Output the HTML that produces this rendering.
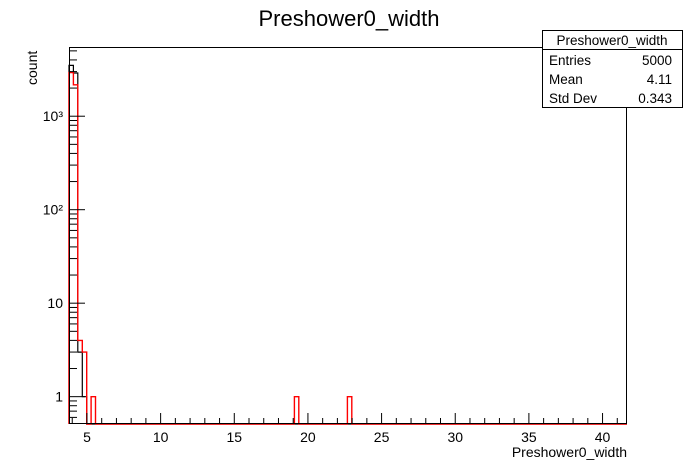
<!DOCTYPE html>
<html><head><meta charset="utf-8"><style>
html,body{margin:0;padding:0;background:#fff;}
svg{display:block;font-family:"Liberation Sans",sans-serif;}
</style></head><body>
<svg id="c" width="696" height="472" viewBox="0 0 696 472" xmlns="http://www.w3.org/2000/svg">
<rect width="696" height="472" fill="#fff"/>
<text x="349" y="26" font-size="22" text-anchor="middle">Preshower0_width</text>
<g id="plot"></g>
<text transform="translate(37,85) rotate(-90)" font-size="14">count</text>
<text x="627" y="457" font-size="14" text-anchor="end">Preshower0_width</text>
<g>
<rect x="542.5" y="30.5" width="140" height="77" fill="#fff" stroke="#000"/>
<line x1="542" y1="49.5" x2="682" y2="49.5" stroke="#000"/>
<text x="612" y="45" font-size="13.5" text-anchor="middle">Preshower0_width</text>
<text x="549" y="65" font-size="13.5">Entries</text><text x="672" y="65" font-size="13.5" text-anchor="end">5000</text>
<text x="549" y="84" font-size="13.5">Mean</text><text x="672" y="84" font-size="13.5" text-anchor="end">4.11</text>
<text x="549" y="103" font-size="13.5">Std Dev</text><text x="672" y="103" font-size="13.5" text-anchor="end">0.343</text>
</g>
</svg>
<script>
const xTicks = [5,10,15,20,25,30,35,40];
const yMajor = [1,10,100,1000];
const yLabels = ["1","10","10²","10³"];
const binStart = 3.78;
const binWidth = 0.3;
const redCounts = {0:2930,1:2170,2:4,3:3,5:1,51:1,63:1};
const blackCounts = {0:3500,1:2900,2:3,3:1};

const L=69,R=627,T=47,B=424;
const xmin=3.78,xmax=41.66,ymin=0.51,ymax=5500;
const X=v=>L+(v-xmin)/(xmax-xmin)*(R-L);
const Y=v=>B-(Math.log10(v)-Math.log10(ymin))/(Math.log10(ymax)-Math.log10(ymin))*(B-T);
const NS='http://www.w3.org/2000/svg';
const g=document.getElementById('plot');
function mk(t,a){const e=document.createElementNS(NS,t);for(const k in a)e.setAttribute(k,a[k]);g.appendChild(e);return e;}
const nb=Math.ceil((xmax-binStart)/binWidth);
function histPath(counts){
  let d='M'+L+','+B;
  for(let i=0;i<nb;i++){
    const x0=Math.max(L,X(binStart+i*binWidth)),x1=Math.min(R,X(binStart+(i+1)*binWidth));
    const v=counts[i]||0;const y=v>0?Math.max(T,Y(v)):B;
    d+=' L'+x0.toFixed(1)+','+y.toFixed(1)+' L'+x1.toFixed(1)+','+y.toFixed(1);
  }
  return d+' L'+R+','+B;
}
const bh=mk('path',{d:histPath(blackCounts),fill:'none',stroke:'#000','stroke-width':1.2});


const rh=mk('path',{d:histPath(redCounts),fill:'none',stroke:'#f00','stroke-width':1.4});


const fr=mk('rect',{x:L+0.5,y:T+0.5,width:R-L-1,height:B-T-1,fill:'none',stroke:'#000'});


// x ticks
for(let v=4;v<=41.5;v+=1){
  const big=(v%5===0);
  mk('line',{x1:X(v),x2:X(v),y1:B,y2:B-(big?11:6),stroke:'#000'});
}
xTicks.forEach(v=>{
  const t=mk('text',{x:X(v),y:B+18,'font-size':14,'text-anchor':'middle'});
  t.textContent=v;
  
  
});
// y ticks
for(let d=-1;d<=3;d++){for(let m=1;m<10;m++){const v=m*Math.pow(10,d);if(v<ymin||v>ymax)continue;
  mk('line',{x1:L,x2:L+(m===1?16:8),y1:Y(v),y2:Y(v),stroke:'#000'});}}
yMajor.forEach((v,i)=>{
  const t=mk('text',{x:L-6,y:Y(v)+5,'font-size':14,'text-anchor':'end'});
  t.textContent=yLabels[i];
  
  
});
</script>
</body></html>
